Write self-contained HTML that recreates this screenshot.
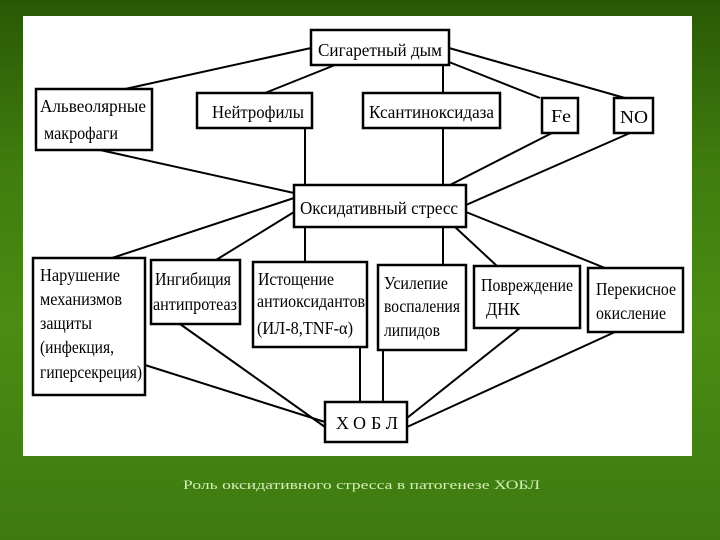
<!DOCTYPE html>
<html><head><meta charset="utf-8"><style>
html,body{margin:0;padding:0;}
body{width:720px;height:540px;overflow:hidden;background:linear-gradient(180deg,#2b5806 0%,#3f7c0e 30%,#4a8c14 60%,#3e7a10 100%);position:relative;}
svg{position:absolute;left:0;top:0;}
text{font-family:"Liberation Serif",serif;font-size:18px;fill:#000;}
</style></head><body>
<svg width="720" height="540" viewBox="0 0 720 540">
<rect x="23" y="16" width="669" height="440" fill="#fff"/>
<g stroke="#000" stroke-width="2" fill="none">
<line x1="311" y1="48" x2="125" y2="89"/>
<line x1="335" y1="65" x2="265" y2="93"/>
<line x1="443" y1="65" x2="443" y2="93"/>
<line x1="449" y1="62" x2="540" y2="98"/>
<line x1="449" y1="48" x2="625" y2="98"/>
<line x1="100" y1="150" x2="294" y2="193"/>
<line x1="305" y1="128" x2="305" y2="185"/>
<line x1="443" y1="128" x2="443" y2="185"/>
<line x1="552" y1="133" x2="450" y2="185"/>
<line x1="630" y1="133" x2="466" y2="205"/>
<line x1="294" y1="198" x2="112" y2="258"/>
<line x1="294" y1="212" x2="216" y2="260"/>
<line x1="305" y1="227" x2="305" y2="262"/>
<line x1="443" y1="227" x2="443" y2="265"/>
<line x1="455" y1="227" x2="497" y2="266"/>
<line x1="466" y1="212" x2="605" y2="268"/>
<line x1="145" y1="365" x2="325" y2="422"/>
<line x1="180" y1="324" x2="325" y2="427"/>
<line x1="360" y1="347" x2="360" y2="402"/>
<line x1="383" y1="350" x2="383" y2="402"/>
<line x1="520" y1="328" x2="407" y2="418"/>
<line x1="615" y1="332" x2="407" y2="427"/>
</g>
<g stroke="#000" stroke-width="2.5" fill="#fff">
<rect x="311" y="30" width="138" height="35"/>
<rect x="36" y="89" width="116" height="61"/>
<rect x="197" y="93" width="115" height="35"/>
<rect x="363" y="93" width="137" height="35"/>
<rect x="542" y="98" width="36" height="35"/>
<rect x="614" y="98" width="39" height="35"/>
<rect x="294" y="185" width="172" height="42"/>
<rect x="33" y="258" width="112" height="137"/>
<rect x="151" y="260" width="89" height="64"/>
<rect x="253" y="262" width="114" height="85"/>
<rect x="378" y="265" width="88" height="85"/>
<rect x="474" y="266" width="106" height="62"/>
<rect x="588" y="268" width="95" height="64"/>
<rect x="325" y="402" width="82" height="40"/>
</g>
<text x="318" y="56" textLength="124" lengthAdjust="spacingAndGlyphs">Сигаретный дым</text>
<text x="40" y="112" textLength="106" lengthAdjust="spacingAndGlyphs">Альвеолярные</text>
<text x="44" y="139" textLength="74" lengthAdjust="spacingAndGlyphs">макрофаги</text>
<text x="212" y="118" textLength="92" lengthAdjust="spacingAndGlyphs">Нейтрофилы</text>
<text x="369" y="118" textLength="125" lengthAdjust="spacingAndGlyphs">Ксантиноксидаза</text>
<text x="551" y="122" textLength="20" lengthAdjust="spacingAndGlyphs">Fe</text>
<text x="620" y="123" textLength="28" lengthAdjust="spacingAndGlyphs">NO</text>
<text x="300" y="214" textLength="158" lengthAdjust="spacingAndGlyphs">Оксидативный стресс</text>
<text x="40" y="281" textLength="80" lengthAdjust="spacingAndGlyphs">Нарушение</text>
<text x="40" y="305" textLength="82" lengthAdjust="spacingAndGlyphs">механизмов</text>
<text x="40" y="329" textLength="52" lengthAdjust="spacingAndGlyphs">защиты</text>
<text x="40" y="353" textLength="74" lengthAdjust="spacingAndGlyphs">(инфекция,</text>
<text x="40" y="378" textLength="102" lengthAdjust="spacingAndGlyphs">гиперсекреция)</text>
<text x="155" y="285" textLength="76" lengthAdjust="spacingAndGlyphs">Ингибиция</text>
<text x="153" y="310" textLength="84" lengthAdjust="spacingAndGlyphs">антипротеаз</text>
<text x="258" y="285" textLength="76" lengthAdjust="spacingAndGlyphs">Истощение</text>
<text x="257" y="307" textLength="108" lengthAdjust="spacingAndGlyphs">антиоксидантов</text>
<text x="257" y="334" textLength="96" lengthAdjust="spacingAndGlyphs">(ИЛ-8,TNF-α)</text>
<text x="384" y="289" textLength="64" lengthAdjust="spacingAndGlyphs">Усилепие</text>
<text x="384" y="312" textLength="76" lengthAdjust="spacingAndGlyphs">воспаления</text>
<text x="384" y="336" textLength="56" lengthAdjust="spacingAndGlyphs">липидов</text>
<text x="481" y="291" textLength="92" lengthAdjust="spacingAndGlyphs">Повреждение</text>
<text x="486" y="315" textLength="34" lengthAdjust="spacingAndGlyphs">ДНК</text>
<text x="596" y="295" textLength="80" lengthAdjust="spacingAndGlyphs">Перекисное</text>
<text x="596" y="319" textLength="70" lengthAdjust="spacingAndGlyphs">окисление</text>
<text x="336" y="429" textLength="62" lengthAdjust="spacing" style="font-size:18px">ХОБЛ</text>
<text x="183" y="489" textLength="357" lengthAdjust="spacingAndGlyphs" style="font-size:13px;fill:#d2efb4">Роль оксидативного стресса в патогенезе ХОБЛ</text>
</svg>
</body></html>
